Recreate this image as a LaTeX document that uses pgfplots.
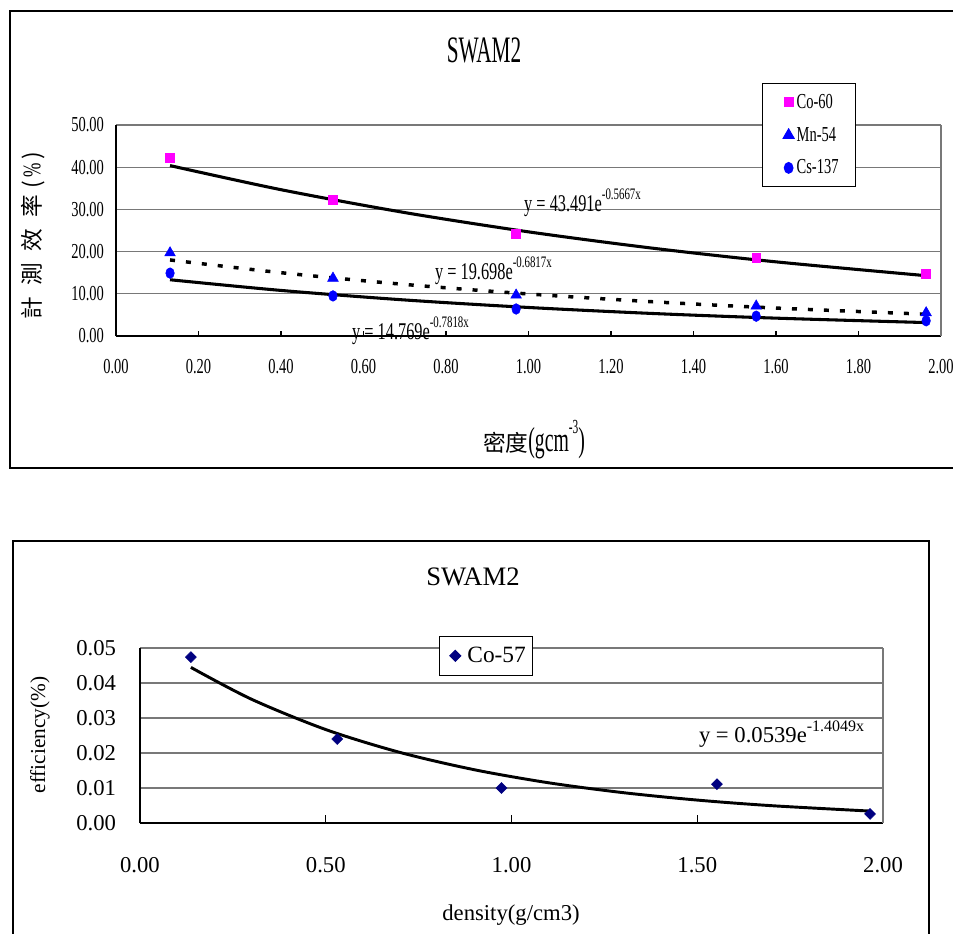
\documentclass[border=0pt]{standalone}
\usepackage{fontspec}
\setmainfont{Liberation Serif}
\newfontfamily\condfont[FakeStretch=0.68]{Liberation Serif}
\newfontfamily\titlefont[FakeStretch=0.57]{Liberation Serif}
\newfontfamily\cjk{Noto Sans CJK TC}
\usepackage{pgfplots}
\pgfplotsset{compat=1.18}
\pgfplotsset{
  toplegend/.style={legend image code/.code={\path[draw=none,fill=none] (0cm,0cm) (0.4cm,0cm);\draw[##1] plot coordinates {(0.3cm,0cm)};}},
  botlegend/.style={legend image code/.code={\path[draw=none,fill=none] (0cm,0cm) (0.55cm,0cm);\draw[##1] plot coordinates {(0.3cm,0cm)};}}}
\definecolor{cmag}{RGB}{255,0,255}
\definecolor{cblue}{RGB}{0,0,255}
\definecolor{cnavy}{RGB}{0,0,128}
\definecolor{gridgray}{RGB}{120,120,120}
\newcommand{\fs}[1]{\fontsize{#1}{#1}\selectfont}
\begin{document}
\begin{tikzpicture}[x=0.75pt,y=-0.75pt]
\useasboundingbox (0,0) rectangle (953,934);
\draw[line width=1.1pt] (10,11) rectangle (975,468);
\draw[line width=1.1pt] (13,541) rectangle (929,960);

% ---------- top chart ----------
\node[anchor=base, font=\titlefont\fs{28}] at (484,63) {SWAM2};
\node[anchor=base, font=\titlefont\fs{26}] at (534,451) {{\cjk\fs{17}密度}(gcm\raisebox{0.5em}{\fs{15}-3})};
\node[rotate=90, anchor=center, font=\cjk\fs{17}] at (33,236) {計\hspace{0.5em}測\hspace{0.5em}效\hspace{0.5em}率\hspace{0.3em}(\hspace{0.15em}{\condfont\fs{19}\%}\hspace{0.15em})};

\begin{axis}[
  at={(87pt,-252pt)}, anchor=south west, scale only axis,
  width=618.75pt, height=158.25pt,
  xmin=0, xmax=2, ymin=0, ymax=50,
  xtick={0,0.2,0.4,0.6,0.8,1.0,1.2,1.4,1.6,1.8,2.0},
  ytick={0,10,20,30,40,50},
  axis x line*=bottom, axis y line*=left,
  axis line style={black, line width=1.4pt},
  ymajorgrids, major grid style={gridgray, line width=0.9pt},
  tick align=inside, major tick length=3.75pt,
  ytick style={draw=none}, xtick style={black, line width=0.9pt},
  /pgf/number format/assume math mode=true,
  xticklabel={\pgfmathprintnumber[fixed,fixed zerofill,precision=2]{\tick}},
  yticklabel={\pgfmathprintnumber[fixed,fixed zerofill,precision=2]{\tick}},
  xticklabel style={anchor=center, yshift=-23pt, font=\condfont\fs{16}},
  yticklabel style={anchor=east, xshift=-5.5pt, font=\condfont\fs{16}},
  clip=false,
  legend style={at={(0.783,1.199)}, anchor=north west, draw=black, line width=0.9pt, fill=white,
    font=\condfont\fs{16}, row sep=8.5pt, inner xsep=11pt, inner ysep=6pt, cells={anchor=west}},
]
\draw[gridgray, line width=0.9pt] (rel axis cs:1,0) -- (rel axis cs:1,1);
\addplot[only marks, mark=square*, mark size=3.3pt, color=cmag, toplegend]
  coordinates {(0.131,42.2) (0.526,32.2) (0.970,24.2) (1.552,18.5) (1.964,14.7)};
\addlegendentry{Co-60}
\addplot[only marks, mark=triangle*, mark size=4.6pt, color=cblue, toplegend]
  coordinates {(0.131,19.7) (0.526,13.7) (0.970,9.7) (1.552,7.1) (1.964,5.5)};
\addlegendentry{Mn-54}
\addplot[only marks, mark=*, mark size=3.2pt, mark options={yscale=1.25}, color=cblue, toplegend]
  coordinates {(0.131,14.9) (0.526,9.5) (0.970,6.4) (1.552,4.7) (1.964,3.6)};
\addlegendentry{Cs-137}
% trendlines
\addplot[black, line width=2.3pt, smooth, forget plot] coordinates {
  (0.131,40.38) (0.4,34.67) (0.7,29.25) (1.0,24.68) (1.3,20.82) (1.6,17.57) (1.964,14.29)};
\addplot[black, line width=2.6pt, dash pattern=on 3.75pt off 8.25pt, smooth, forget plot] coordinates {
  (0.131,18.02) (0.4,15.00) (0.7,12.22) (1.0,9.96) (1.3,8.12) (1.6,6.62) (1.964,5.16)};
\addplot[black, line width=2.3pt, smooth, forget plot] coordinates {
  (0.131,13.33) (0.4,10.80) (0.7,8.54) (1.0,6.76) (1.3,5.34) (1.6,4.23) (1.964,3.18)};
\node[anchor=base west, inner sep=0, font=\condfont\fs{18}] at (axis cs:0.989,29.4) {y = 43.491e\raisebox{0.5em}{\fs{12}-0.5667x}};
\node[anchor=base west, inner sep=0, font=\condfont\fs{18}] at (axis cs:0.773,13.3) {y = 19.698e\raisebox{0.5em}{\fs{12}-0.6817x}};
\node[anchor=base west, inner sep=0, font=\condfont\fs{18}] at (axis cs:0.572,-0.9) {y = 14.769e\raisebox{0.5em}{\fs{12}-0.7818x}};
\end{axis}

% ---------- bottom chart ----------
\node[anchor=base, font=\fs{20}] at (473,585) {SWAM2};
\node[anchor=base, font=\fs{17}] at (511,920) {density(g/cm3)};
\node[rotate=90, anchor=center, font=\fs{16}] at (40,735) {efficiency(\%)};

\begin{axis}[
  at={(105pt,-617.25pt)}, anchor=south west, scale only axis,
  width=557.25pt, height=131.25pt,
  xmin=0, xmax=2, ymin=0, ymax=0.05,
  xtick={0,0.5,1,1.5,2},
  ytick={0,0.01,0.02,0.03,0.04,0.05},
  scaled y ticks=false, scaled x ticks=false,
  axis x line*=bottom, axis y line*=left,
  axis line style={black, line width=1.1pt},
  ymajorgrids, major grid style={gridgray, line width=0.9pt},
  tick align=inside, major tick length=6pt,
  ytick style={draw=none}, xtick style={black, line width=0.9pt},
  /pgf/number format/assume math mode=true,
  xticklabel={\pgfmathprintnumber[fixed,fixed zerofill,precision=2]{\tick}},
  yticklabel={\pgfmathprintnumber[fixed,fixed zerofill,precision=2]{\tick}},
  xticklabel style={anchor=center, yshift=-31.5pt, font=\fs{17}},
  yticklabel style={anchor=east, xshift=-14.5pt, font=\fs{17}},
  clip=false,
  legend style={at={(0.403,1.069)}, anchor=north west, draw=black, line width=0.8pt, fill=white,
    font=\fs{17.5}, inner xsep=3pt, inner ysep=6pt, cells={anchor=west}},
]
\draw[gridgray, line width=0.9pt] (rel axis cs:1,0) -- (rel axis cs:1,1);
\addplot[only marks, mark=square*, mark size=2.9pt, mark options={rotate=45}, color=cnavy, botlegend]
  coordinates {(0.137,0.0474) (0.531,0.0240) (0.973,0.0100) (1.553,0.0111) (1.965,0.0026)};
\addlegendentry{Co-57}
\addplot[black, line width=2.2pt, smooth, forget plot] coordinates {
  (0.137,0.04446) (0.3,0.03537) (0.5,0.02670) (0.7,0.02016) (0.9,0.01522) (1.1,0.01149) (1.3,0.00868) (1.5,0.00655) (1.7,0.00495) (1.965,0.00341)};
\node[anchor=base west, inner sep=0, font=\fs{17}] at (axis cs:1.504,0.0229) {y = 0.0539e\raisebox{0.5em}{\fs{12}-1.4049x}};
\end{axis}
\end{tikzpicture}
\end{document}
